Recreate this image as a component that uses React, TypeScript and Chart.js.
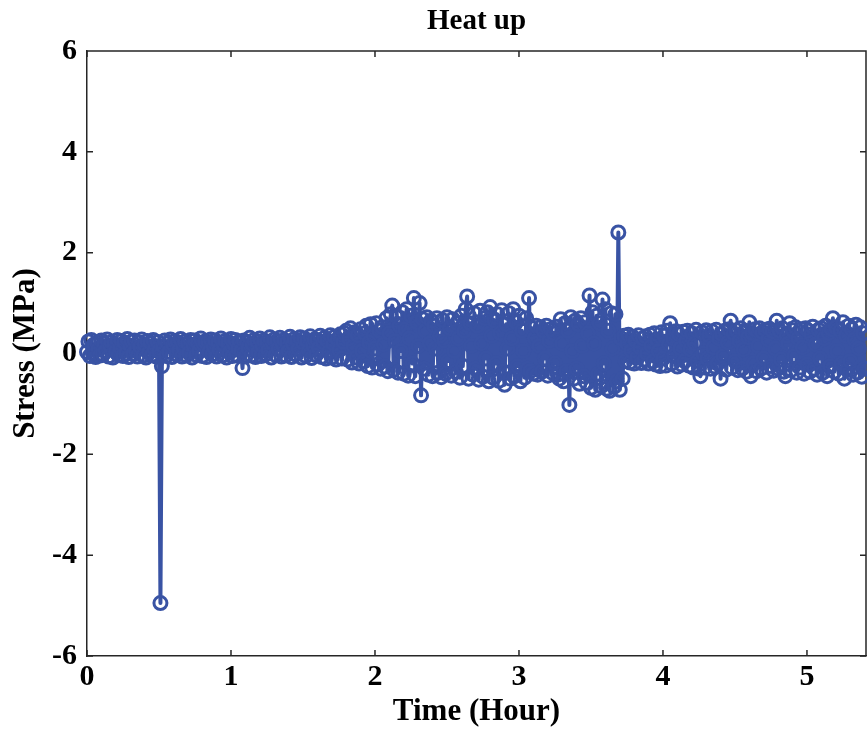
import { useEffect, useRef } from "react";
import { Chart, registerables } from "chart.js";

Chart.register(...registerables);

const TITLE = "Heat up";
const X_LABEL = "Time (Hour)";
const Y_LABEL = "Stress (MPa)";

// sampling interval of the logged record (hours)
const SAMPLE_STEP_H = 0.01;
const X_MIN = 0;
const X_MAX = 5.41;
const Y_MIN = -6;
const Y_MAX = 6;
const X_TICKS = [0, 1, 2, 3, 4, 5];
const Y_TICKS = [-6, -4, -2, 0, 2, 4, 6];

// Stress (MPa), 0 – 1.79 h
const stressWarmup = [
  0.03, 0.24, -0.05, 0.27, 0.01, 0.18, -0.07, 0.22, 0.09, -0.04,
  0.26, -0.02, 0.2, 0.05, 0.28, -0.06, 0.15, 0.23, -0.08, 0.19,
  0.04, 0.27, -0.03, 0.12, 0.25, -0.05, 0.21, 0.0, 0.29, -0.07,
  0.16, 0.24, -0.01, 0.26, 0.06, -0.06, 0.22, 0.13, 0.28, -0.04,
  0.18, -0.08, 0.25, 0.02, 0.21, -0.03, 0.27, 0.08, -0.06, 0.23,
  0.05, -4.95, -0.25, 0.14, 0.26, -0.05, 0.2, 0.03, 0.28, -0.07,
  0.17, 0.25, -0.02, 0.22, 0.07, 0.29, -0.06, 0.12, 0.24, -0.04,
  0.2, 0.01, 0.27, -0.08, 0.15, 0.26, -0.03, 0.21, 0.06, 0.3,
  -0.05, 0.18, 0.24, -0.07, 0.23, 0.04, 0.28, -0.02, 0.13, 0.26,
  -0.06, 0.21, 0.08, 0.3, -0.04, 0.17, 0.25, -0.08, 0.22, 0.02,
  0.29, -0.05, 0.19, 0.27, -0.03, 0.1, 0.24, 0.05, -0.29, 0.26,
  -0.06, 0.22, 0.09, 0.31, -0.04, 0.18, 0.27, -0.07, 0.24, 0.03,
  0.3, -0.05, 0.15, 0.26, -0.02, 0.23, 0.07, 0.32, -0.08, 0.2,
  0.28, -0.03, 0.25, 0.1, 0.31, -0.06, 0.17, 0.27, -0.04, 0.22,
  0.05, 0.33, -0.07, 0.19, 0.29, -0.02, 0.26, 0.09, 0.32, -0.08,
  0.21, 0.3, -0.05, 0.24, 0.06, 0.34, -0.09, 0.16, 0.28, -0.03,
  0.27, 0.11, 0.35, -0.07, 0.22, 0.31, -0.1, 0.25, 0.04, 0.36,
  -0.08, 0.19, 0.33, -0.12, 0.28, 0.07, 0.38, -0.1, 0.23, 0.4,
];

// Stress (MPa), 1.80 – 3.69 h
const stressTransient = [
  0.45, -0.12, 0.3, 0.5, -0.18, 0.15, 0.42, -0.08, 0.36, -0.2,
  0.48, 0.05, -0.16, 0.4, 0.55, -0.25, 0.22, 0.58, -0.28, 0.35,
  0.1, 0.6, -0.22, 0.45, -0.3, 0.52, 0.18, -0.26, 0.7, -0.35,
  0.4, 0.78, 0.95, -0.32, 0.25, 0.72, -0.38, 0.55, 0.05, 0.82,
  -0.4, 0.48, 0.88, -0.44, 0.3, 0.75, -0.2, 1.1, -0.45, 0.62,
  0.15, 1.0, -0.83, 0.68, -0.3, 0.45, 0.72, -0.42, 0.2, 0.65,
  -0.45, 0.55, 0.1, 0.7, -0.38, 0.35, -0.47, 0.66, 0.25, -0.4,
  0.72, -0.15, 0.5, -0.44, 0.68, 0.05, -0.36, 0.6, 0.3, -0.48,
  0.75, -0.25, 0.45, 0.88, 1.13, -0.5, 0.6, 0.15, -0.42, 0.8,
  -0.3, 0.55, -0.52, 0.85, 0.2, -0.46, 0.7, -0.1, 0.82, -0.55,
  0.92, 0.35, -0.48, 0.65, -0.2, 0.78, -0.54, 0.4, 0.86, -0.35,
  -0.62, 0.58, 0.1, 0.8, -0.5, 0.3, 0.88, -0.45, 0.62, -0.25,
  0.75, -0.55, 0.45, 0.05, -0.48, 0.7, -0.3, 1.1, -0.35, 0.5,
  -0.4, 0.3, 0.55, -0.42, 0.15, 0.52, -0.36, 0.45, -0.1, 0.55,
  -0.44, 0.25, 0.48, -0.38, 0.4, -0.2, 0.53, -0.42, -0.5, 0.68,
  0.2, -0.55, 0.6, -0.35, 0.45, -1.02, 0.72, 0.05, -0.5, 0.65,
  -0.3, 0.58, -0.6, 0.7, 0.15, -0.45, 0.62, -0.58, 0.4, 1.15,
  -0.68, 0.82, 0.2, -0.72, 0.75, -0.4, 0.6, -0.65, 1.07, -0.2,
  0.88, -0.7, 0.45, -0.74, 0.8, 0.1, -0.66, 0.78, -0.55, 2.4,
];

// Stress (MPa), 3.70 – 5.40 h
const stressSteady = [
  -0.72, 0.3, -0.5, 0.35, -0.15, 0.2, 0.37, -0.18, 0.05, 0.33,
  -0.2, 0.25, -0.08, 0.36, 0.12, -0.19, 0.3, -0.12, 0.34, 0.0,
  -0.2, 0.37, 0.15, -0.16, 0.4, -0.22, 0.28, 0.05, -0.25, 0.42,
  -0.1, 0.35, -0.24, 0.45, 0.18, 0.6, -0.2, 0.3, -0.05, 0.44,
  -0.26, 0.38, 0.1, -0.22, 0.43, -0.15, 0.25, 0.45, -0.24, 0.08,
  0.4, -0.28, 0.2, 0.47, -0.15, -0.3, -0.45, 0.42, 0.0, -0.28,
  0.46, -0.1, 0.35, -0.3, 0.44, 0.12, -0.26, 0.47, -0.2, 0.3,
  -0.5, 0.38, -0.05, 0.45, -0.32, 0.22, 0.48, 0.65, -0.28, 0.4,
  -0.15, 0.46, -0.33, 0.25, 0.5, -0.3, 0.08, 0.45, -0.36, 0.32,
  0.62, -0.45, 0.4, -0.2, 0.48, -0.35, 0.15, 0.5, -0.3, 0.42,
  -0.1, 0.47, -0.38, 0.28, 0.49, -0.25, 0.44, -0.34, 0.1, 0.65,
  -0.3, 0.45, -0.12, 0.5, -0.36, -0.45, 0.35, 0.2, 0.6, -0.33,
  0.46, -0.05, 0.52, -0.38, 0.3, -0.28, 0.48, 0.12, -0.4, 0.5,
  -0.22, 0.45, -0.36, 0.38, 0.53, -0.3, 0.18, -0.42, 0.47, -0.1,
  0.5, -0.38, 0.3, 0.55, -0.45, 0.4, -0.25, 0.48, 0.7, -0.36,
  0.52, 0.05, -0.4, 0.45, -0.2, 0.62, -0.5, 0.35, -0.32, 0.55,
  -0.15, 0.48, -0.42, 0.28, 0.57, -0.38, 0.1, 0.52, -0.46, 0.4,
  -0.3,
];

const stress = [...stressWarmup, ...stressTransient, ...stressSteady];

const SERIES_COLOR = "#3953A4";
const AXIS_COLOR = "#262626";
const FONT_FAMILY = "'Liberation Serif', 'Times New Roman', Times, serif";

const framePlugin = {
  id: "matlabFrame",
  beforeDatasetsDraw(chart: any) {
    const { ctx, chartArea, scales } = chart;
    const { left, right, top, bottom } = chartArea;
    const xs = scales.x;
    const ys = scales.y;
    const tick = 6;
    ctx.save();
    ctx.strokeStyle = AXIS_COLOR;
    ctx.lineWidth = 1.5;
    ctx.beginPath();
    ctx.moveTo(left, top);
    ctx.lineTo(right, top);
    ctx.lineTo(right, bottom);
    for (const v of X_TICKS) {
      const px = xs.getPixelForValue(v);
      ctx.moveTo(px, bottom);
      ctx.lineTo(px, bottom - tick);
      ctx.moveTo(px, top);
      ctx.lineTo(px, top + tick);
    }
    for (const v of Y_TICKS) {
      const py = ys.getPixelForValue(v);
      ctx.moveTo(left, py);
      ctx.lineTo(left + tick, py);
      ctx.moveTo(right, py);
      ctx.lineTo(right - tick, py);
    }
    ctx.stroke();
    ctx.restore();
  },
};

export default function App() {
  const canvasRef = useRef<HTMLCanvasElement | null>(null);

  useEffect(() => {
    if (!canvasRef.current) return;
    const data = stress.map((y, i) => ({ x: Number((i * SAMPLE_STEP_H).toFixed(3)), y }));
    const chart = new Chart(canvasRef.current, {
      type: "line",
      data: {
        datasets: [
          {
            label: "Stress",
            data,
            borderColor: SERIES_COLOR,
            borderWidth: 4,
            borderJoinStyle: "round",
            borderCapStyle: "round",
            pointStyle: "circle",
            pointRadius: 6.5,
            pointBorderWidth: 3,
            pointBorderColor: SERIES_COLOR,
            pointBackgroundColor: "rgba(0,0,0,0)",
            tension: 0,
            fill: false,
            clip: false,
          } as any,
        ],
      },
      options: {
        animation: false,
        responsive: true,
        maintainAspectRatio: false,
        devicePixelRatio: 1,
        events: [],
        layout: { autoPadding: false, padding: { left: 0, right: 1, top: 0, bottom: 0 } },
        plugins: {
          legend: { display: false },
          tooltip: { enabled: false },
          title: {
            display: true,
            text: TITLE,
            fullSize: false,
            color: "#000",
            font: { family: FONT_FAMILY, size: 29, weight: "bold", lineHeight: 1.2 },
            padding: { top: 4, bottom: 12.2 },
          },
        },
        scales: {
          x: {
            type: "linear",
            min: X_MIN,
            max: X_MAX,
            afterBuildTicks: (s: any) => {
              s.ticks = X_TICKS.map((v) => ({ value: v }));
            },
            afterFit: (s: any) => {
              s.height = 77;
            },
            grid: { display: false, drawTicks: false, tickLength: 0 },
            border: { display: true, color: AXIS_COLOR, width: 1.5 },
            ticks: {
              color: "#000",
              padding: 3,
              maxRotation: 0,
              font: { family: FONT_FAMILY, size: 30, weight: "bold", lineHeight: 1.2 },
            },
            title: {
              display: true,
              text: X_LABEL,
              color: "#000",
              font: { family: FONT_FAMILY, size: 31, weight: "bold", lineHeight: 1.2 },
              padding: { top: 0, bottom: 2 },
            },
          },
          y: {
            type: "linear",
            min: Y_MIN,
            max: Y_MAX,
            afterBuildTicks: (s: any) => {
              s.ticks = Y_TICKS.map((v) => ({ value: v }));
            },
            afterFit: (s: any) => {
              s.width = 87;
            },
            grid: { display: false, drawTicks: false, tickLength: 0 },
            border: { display: true, color: AXIS_COLOR, width: 1.5 },
            ticks: {
              color: "#000",
              padding: 10,
              font: { family: FONT_FAMILY, size: 30, weight: "bold", lineHeight: 1.2 },
            },
            title: {
              display: true,
              text: Y_LABEL,
              color: "#000",
              font: { family: FONT_FAMILY, size: 31, weight: "bold", lineHeight: 1.2 },
              padding: { top: 7, bottom: 0 },
            },
          },
        },
      },
      plugins: [framePlugin],
    });
    return () => chart.destroy();
  }, []);

  return (
    <div
      style={{
        position: "fixed",
        left: 0,
        top: 0,
        width: 867,
        height: 733,
        background: "#fff",
      }}
    >
      <canvas ref={canvasRef} />
    </div>
  );
}
